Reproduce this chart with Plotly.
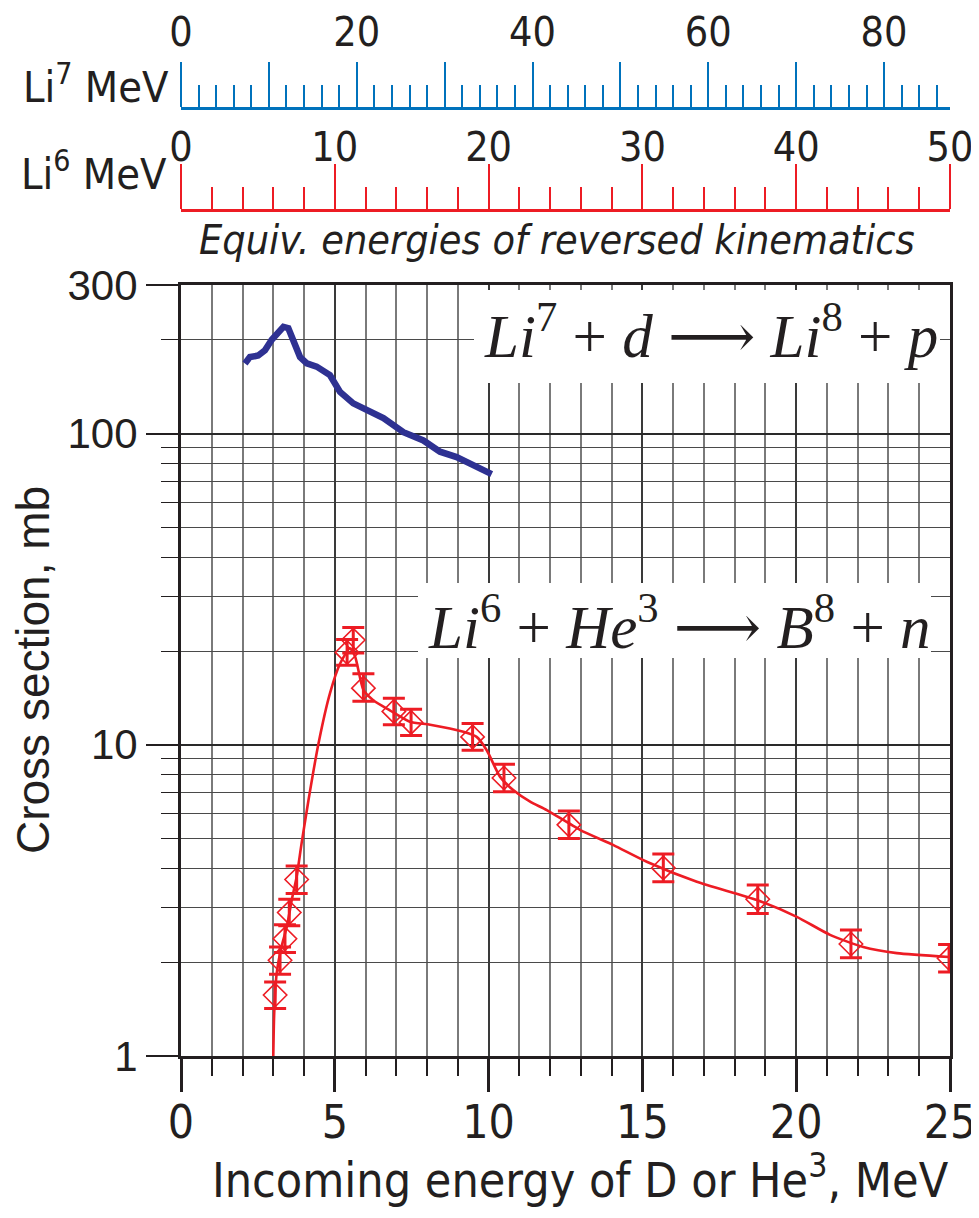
import plotly.graph_objects as go
import math

# ---------------- data ----------------
# Li7 + d -> Li8 + p  (blue curve)
li7_x = [2.08, 2.24, 2.51, 2.73, 2.95, 3.33, 3.49, 3.65, 3.87, 4.09, 4.41, 4.84,
         5.17, 5.60, 6.14, 6.58, 7.23, 7.88, 8.42, 8.96, 9.40, 10.10]
li7_y = [168, 176, 178, 185, 200, 220, 218, 200, 176, 168, 164, 154,
         136, 125, 117, 112, 101, 95, 87.4, 84, 80, 74]

# Li6 + He3 -> B8 + n  (red points with error bars)
pts_x = [3.06, 3.22, 3.38, 3.52, 3.76, 5.40, 5.60, 5.93, 6.92, 7.48, 9.48,
         10.50, 12.61, 15.68, 18.75, 21.78, 24.97]
pts_y = [1.57, 2.03, 2.38, 2.89, 3.69, 19.8, 21.7, 15.2, 12.8, 11.8, 10.6,
         7.82, 5.53, 4.02, 3.19, 2.29, 2.06]
pts_hi = [1.73, 2.24, 2.64, 3.19, 4.08, 21.8, 23.8, 16.9, 14.1, 13.0, 11.7,
          8.65, 6.12, 4.46, 3.54, 2.54, 2.28]
pts_lo = [1.42, 1.83, 2.15, 2.62, 3.33, 18.0, 19.7, 13.8, 11.6, 10.7, 9.6,
          7.06, 5.00, 3.63, 2.87, 2.07, 1.86]

# smooth guide curve through the red points
fit_x = [3.0, 3.03, 3.11, 3.27, 3.44, 3.6, 3.76, 3.92, 4.14, 4.47, 4.84, 5.17,
         5.49, 5.66, 5.93, 6.25, 6.79, 7.44, 8.1, 9.18, 9.61, 9.94, 10.37, 10.8,
         11.35, 11.89, 12.97, 14.06, 15.14, 16.77, 18.72, 20.02, 21.1, 22.18,
         23.27, 24.97]
fit_y = [1.0, 1.37, 1.84, 2.25, 2.6, 3.17, 3.77, 4.82, 6.6, 10.1, 14.6, 18.2,
         20.4, 19.2, 15.0, 13.9, 12.9, 11.85, 11.6, 11.0, 10.6, 9.6, 7.9, 7.15,
         6.56, 6.17, 5.33, 4.76, 4.21, 3.63, 3.17, 2.80, 2.45, 2.24, 2.14, 2.08]

# axes
x_ticks = [0, 5, 10, 15, 20, 25]
y_ticks = [1, 10, 100, 300]
y_minor = [2, 3, 4, 5, 6, 7, 8, 9, 20, 30, 40, 50, 60, 70, 80, 90, 200]
li7_ticks = [0, 10, 20, 30, 40, 50, 60, 70, 80]
li7_text = ["0", "", "20", "", "40", "", "60", "", "80"]
li6_ticks = [0, 10, 20, 30, 40, 50]

# ---------------- style ----------------
W, H = 979, 1218
OFF = 8                      # page body margin of the browser
ML = 181 - OFF
MR = W - (950 - OFF)
MT = 12
MB = H - (1056 - OFF)
PW, PH = W - ML - MR, H - MT - MB
BOTTOM = H - MB


def px(xs):
    """screen x (pixels) -> paper fraction"""
    return (xs - OFF - ML) / PW


def py(ys):
    """screen y (pixels) -> paper fraction"""
    return (BOTTOM - (ys - OFF)) / PH


DARK = "#231f20"
RED = "#ed1c24"
NAVY = "#2e3192"
BLUE = "#0072bc"
SANS = "Liberation Sans, Arial, sans-serif"
NARROW = "DejaVu Sans Condensed, Liberation Sans Narrow, sans-serif"
SERIF = "Liberation Serif, Times New Roman, DejaVu Serif, serif"

fig = go.Figure()

fig.add_trace(go.Scatter(x=li7_x, y=li7_y, mode="lines",
                         line=dict(color=NAVY, width=6.5), showlegend=False))
fig.add_trace(go.Scatter(x=fit_x, y=fit_y, mode="lines",
                         line=dict(color=RED, width=2.6, shape="spline", smoothing=0.6),
                         showlegend=False))
fig.add_trace(go.Scatter(
    x=pts_x, y=pts_y, mode="markers",
    marker=dict(symbol="diamond-open", size=18, color=RED, line=dict(width=1.6, color=RED)),
    error_y=dict(type="data", symmetric=False,
                 array=[h - v for h, v in zip(pts_hi, pts_y)],
                 arrayminus=[v - l for v, l in zip(pts_y, pts_lo)],
                 color=RED, thickness=3, width=11),
    showlegend=False))
# carriers for the two top scales
fig.add_trace(go.Scatter(x=[None], y=[None], xaxis="x2", showlegend=False, hoverinfo="skip"))
fig.add_trace(go.Scatter(x=[None], y=[None], xaxis="x3", showlegend=False, hoverinfo="skip"))

y_top = py(285)

fig.update_layout(
    width=W, height=H,
    margin=dict(l=ML, r=MR, t=MT, b=MB, autoexpand=False),
    paper_bgcolor="white", plot_bgcolor="white",
    showlegend=False,
    xaxis=dict(
        range=[0, 25], domain=[0, 1], anchor="y", automargin=False,
        tickmode="array", tickvals=x_ticks,
        ticks="outside", ticklen=33, tickwidth=2.5, tickcolor=DARK,
        tickfont=dict(family=NARROW, size=46, color=DARK),
        showline=True, linewidth=3, linecolor=DARK, mirror=True,
        showgrid=True, gridcolor="#3a3a3a", gridwidth=2, zeroline=False,
        minor=dict(dtick=1, tick0=0, ticks="outside", ticklen=17, tickwidth=2,
                   tickcolor=DARK, showgrid=True, gridcolor="#7a7a7a", gridwidth=1.5),
    ),
    yaxis=dict(
        type="log", range=[0, math.log10(300)], domain=[0, y_top], automargin=False,
        tickmode="array", tickvals=y_ticks, ticktext=[str(v) for v in y_ticks],
        ticks="outside", ticklen=32, tickwidth=1.5, tickcolor=DARK,
        tickfont=dict(family=SANS, size=42, color=DARK),
        showline=True, linewidth=3, linecolor=DARK, mirror=True,
        showgrid=True, gridcolor="#2a2a2a", gridwidth=1.5, zeroline=False,
        minor=dict(tickmode="array", tickvals=y_minor, ticks="outside", ticklen=17,
                   tickwidth=1.2, tickcolor=DARK, showgrid=True,
                   gridcolor="#4a4a4a", gridwidth=1.1),
    ),
    xaxis2=dict(
        overlaying="x", anchor="free", position=py(108), side="top", automargin=False,
        range=[0, 87.5], tickmode="array", tickvals=li7_ticks, ticktext=li7_text,
        ticks="outside", ticklen=45, tickwidth=2, tickcolor=BLUE,
        tickfont=dict(family=NARROW, size=41, color=DARK),
        showline=True, linewidth=3, linecolor=BLUE, showgrid=False, zeroline=False,
        minor=dict(dtick=2, tick0=0, ticks="outside", ticklen=22, tickwidth=1.6,
                   tickcolor=BLUE, showgrid=False),
    ),
    xaxis3=dict(
        overlaying="x", anchor="free", position=py(210), side="top", automargin=False,
        range=[0, 50], tickmode="array", tickvals=li6_ticks,
        ticks="outside", ticklen=45, tickwidth=2, tickcolor=RED,
        tickfont=dict(family=NARROW, size=41, color=DARK),
        showline=True, linewidth=3, linecolor=RED, showgrid=False, zeroline=False,
        minor=dict(dtick=2, tick0=0, ticks="outside", ticklen=22, tickwidth=1.6,
                   tickcolor=RED, showgrid=False),
    ),
)

# pull some tick labels a little closer to their axis (if supported)
for name, off in (("xaxis", -9), ("xaxis3", -13)):
    try:
        fig.update_layout({name: dict(ticklabelstandoff=off)})
    except Exception:
        pass

# white boxes behind the reaction labels (cover gridlines)
fig.add_shape(type="rect", xref="paper", yref="paper", layer="above",
              x0=px(474), x1=px(940), y0=py(383), y1=py(290),
              fillcolor="white", line=dict(width=0))
fig.add_shape(type="rect", xref="paper", yref="paper", layer="above",
              x0=px(418), x1=px(931), y0=py(658), y1=py(583),
              fillcolor="white", line=dict(width=0))

ARROW = "\u27f6"
ann = []
ann.append(dict(text="<i>Li</i><sup>7</sup> + <i>d</i> " + ARROW + " <i>Li</i><sup>8</sup> + <i>p</i>",
                x=px(711), y=py(332), xref="paper", yref="paper",
                xanchor="center", yanchor="middle", showarrow=False,
                font=dict(family=SERIF, size=61, color=DARK)))
ann.append(dict(text="<i>Li</i><sup>6</sup> + <i>He</i><sup>3</sup> " + ARROW + " <i>B</i><sup>8</sup> + <i>n</i>",
                x=px(679), y=py(622), xref="paper", yref="paper",
                xanchor="center", yanchor="middle", showarrow=False,
                font=dict(family=SERIF, size=61, color=DARK)))
ann.append(dict(text="Li<sup>7</sup> MeV", x=px(171), y=py(84), xref="paper", yref="paper",
                xanchor="right", yanchor="middle", showarrow=False,
                font=dict(family=NARROW, size=43, color=DARK)))
ann.append(dict(text="Li<sup>6</sup> MeV", x=px(169), y=py(171), xref="paper", yref="paper",
                xanchor="right", yanchor="middle", showarrow=False,
                font=dict(family=NARROW, size=43, color=DARK)))
ann.append(dict(text="<i>Equiv. energies of reversed kinematics</i>",
                x=px(557), y=py(240), xref="paper", yref="paper",
                xanchor="center", yanchor="middle", showarrow=False,
                font=dict(family=NARROW, size=41, color=DARK)))
ann.append(dict(text="Cross section, mb", textangle=-90,
                x=px(33), y=py(670), xref="paper", yref="paper",
                xanchor="center", yanchor="middle", showarrow=False,
                font=dict(family=SANS, size=46, color=DARK)))
ann.append(dict(text="Incoming energy of D or He<sup>3</sup>, MeV",
                x=px(951), y=py(1177), xref="paper", yref="paper",
                xanchor="right", yanchor="middle", showarrow=False,
                font=dict(family=NARROW, size=48, color=DARK)))
fig.update_layout(annotations=ann)

fig.write_html("out.html")
